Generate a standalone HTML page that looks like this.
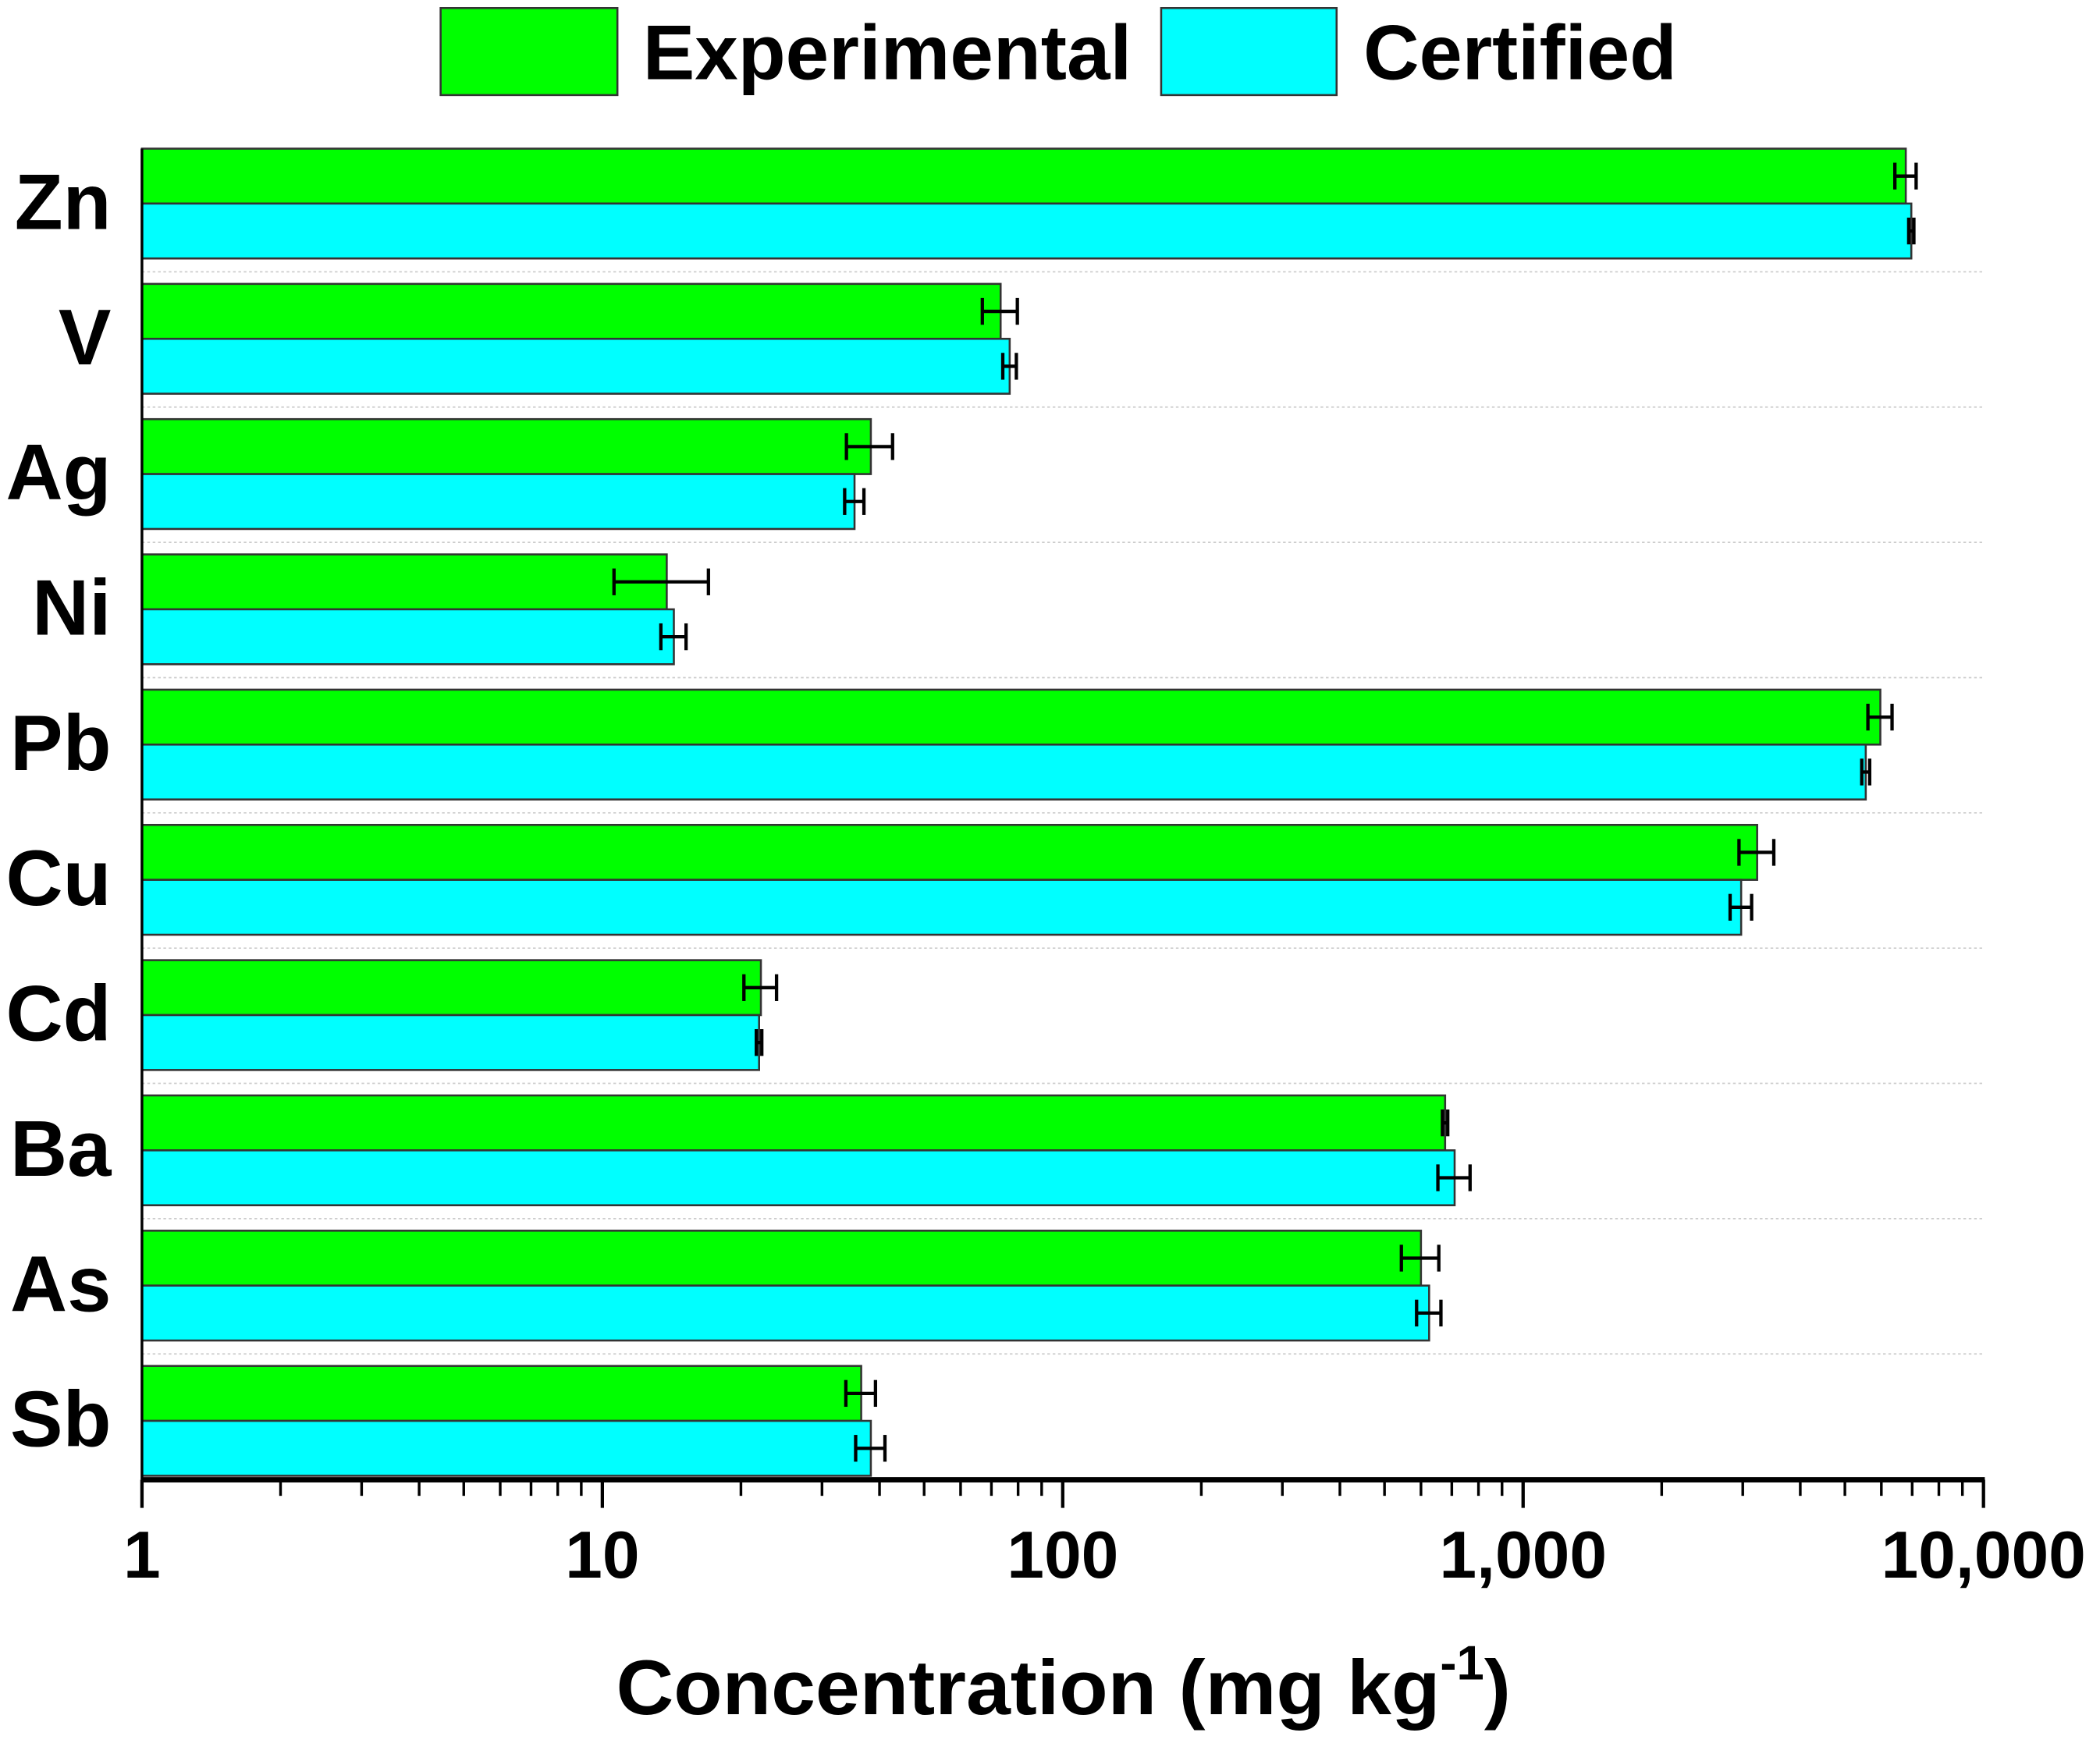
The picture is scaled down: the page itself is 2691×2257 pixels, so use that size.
<!DOCTYPE html>
<html><head><meta charset="utf-8"><style>
html,body{margin:0;padding:0;background:#fff;}
svg{display:block;}
text{font-family:"Liberation Sans",Arial,sans-serif;font-weight:bold;fill:#000;}
</style></head>
<body>
<svg id="chart" width="2691" height="2257" viewBox="0 0 1568 1315" preserveAspectRatio="none" xmlns="http://www.w3.org/2000/svg">
<g>
<rect x="329" y="6" width="132" height="65" fill="#00ff00" stroke="#333" stroke-width="1.5"/>
<text x="480" y="59" font-size="58" textLength="365" lengthAdjust="spacingAndGlyphs">Experimental</text>
<rect x="867" y="6" width="131" height="65" fill="#00ffff" stroke="#333" stroke-width="1.5"/>
<text x="1018" y="59" font-size="58" textLength="234" lengthAdjust="spacingAndGlyphs">Certified</text>
</g>
<g id="grid"></g>
<g id="bars"></g>
<g id="axes"></g>
<text x="460" y="1280" font-size="58" textLength="668" lengthAdjust="spacingAndGlyphs">Concentration (mg kg<tspan font-size="36" dy="-26">-1</tspan><tspan dy="26">)</tspan></text>
</svg>
<script>
const categories = ["Zn","V","Ag","Ni","Pb","Cu","Cd","Ba","As","Sb"];
const experimental = [6780,73.3,38.3,13.8,5970,3224,22.1,677,600,36.5];
const experimentalErr = [360,6.4,4.4,3.2,360,280,1.8,9,56,2.7];
const certified = [6970,76.7,35.3,14.3,5550,2976,21.9,710,625,38.3];
const certifiedErr = [90,2.6,1.7,0.9,110,160,0.3,57,38,2.8];
const tickValues = [1,10,100,1000,10000];
const tickLabels = ["1","10","100","1,000","10,000"];

const NS="http://www.w3.org/2000/svg";
const X0=106,X1=1481,YTOP=111,PITCH=101,BH=41,AXY=1105;
function xs(v){return X0+(Math.log10(v)-0)/4*(X1-X0);}
function mk(tag,attrs,parent){const e=document.createElementNS(NS,tag);for(const k in attrs)e.setAttribute(k,attrs[k]);parent.appendChild(e);return e;}
const grid=document.getElementById('grid'),bars=document.getElementById('bars'),axes=document.getElementById('axes');
categories.forEach((c,i)=>{
  const top=YTOP+i*PITCH;
  if(i<categories.length-1){
    const g=mk('line',{x1:X0,x2:X1,y1:top+2*BH+10,y2:top+2*BH+10,stroke:'#ccc','stroke-width':1,'stroke-dasharray':'2,2'},grid);
    
    
  }
  [[experimental,experimentalErr,'#00ff00','experimental'],[certified,certifiedErr,'#00ffff','certified']].forEach((s,j)=>{
    const v=s[0][i],e=s[1][i],y=top+j*BH;
    const r=mk('rect',{x:X0,y:y,width:xs(v)-X0,height:BH,fill:s[2],stroke:'#333','stroke-width':1.5},bars);
    
    
    const cy=y+BH/2,xl=xs(v-e),xr=xs(v+e);
    const eg=mk('g',{stroke:'#000','stroke-width':2.5},bars);
    
    
    mk('line',{x1:xl,x2:xr,y1:cy,y2:cy},eg);
    mk('line',{x1:xl,x2:xl,y1:cy-10,y2:cy+10},eg);
    mk('line',{x1:xr,x2:xr,y1:cy-10,y2:cy+10},eg);
  });
  const t=mk('text',{x:83,y:top+BH+19,'font-size':59,'text-anchor':'end'},axes);
  t.textContent=c;
  
  
});
const yl=mk('line',{x1:X0,x2:X0,y1:YTOP,y2:AXY,stroke:'#000','stroke-width':2},axes);


const xl=mk('line',{x1:X0,x2:X1+1,y1:AXY,y2:AXY,stroke:'#000','stroke-width':4},axes);


for(let d=0;d<4;d++){for(let m=2;m<=9;m++){
  const x=xs(m*Math.pow(10,d));
  const tk=mk('line',{x1:x,x2:x,y1:AXY,y2:AXY+12,stroke:'#000','stroke-width':2},axes);
  
  
}}
tickValues.forEach((v,i)=>{
  const x=xs(v);
  const tk=mk('line',{x1:x,x2:x,y1:AXY,y2:AXY+21,stroke:'#000','stroke-width':2.5},axes);
  
  
  const t=mk('text',{x:x,y:1178,'font-size':50,'text-anchor':'middle'},axes);
  t.textContent=tickLabels[i];
  
  
});
</script>
</body></html>
